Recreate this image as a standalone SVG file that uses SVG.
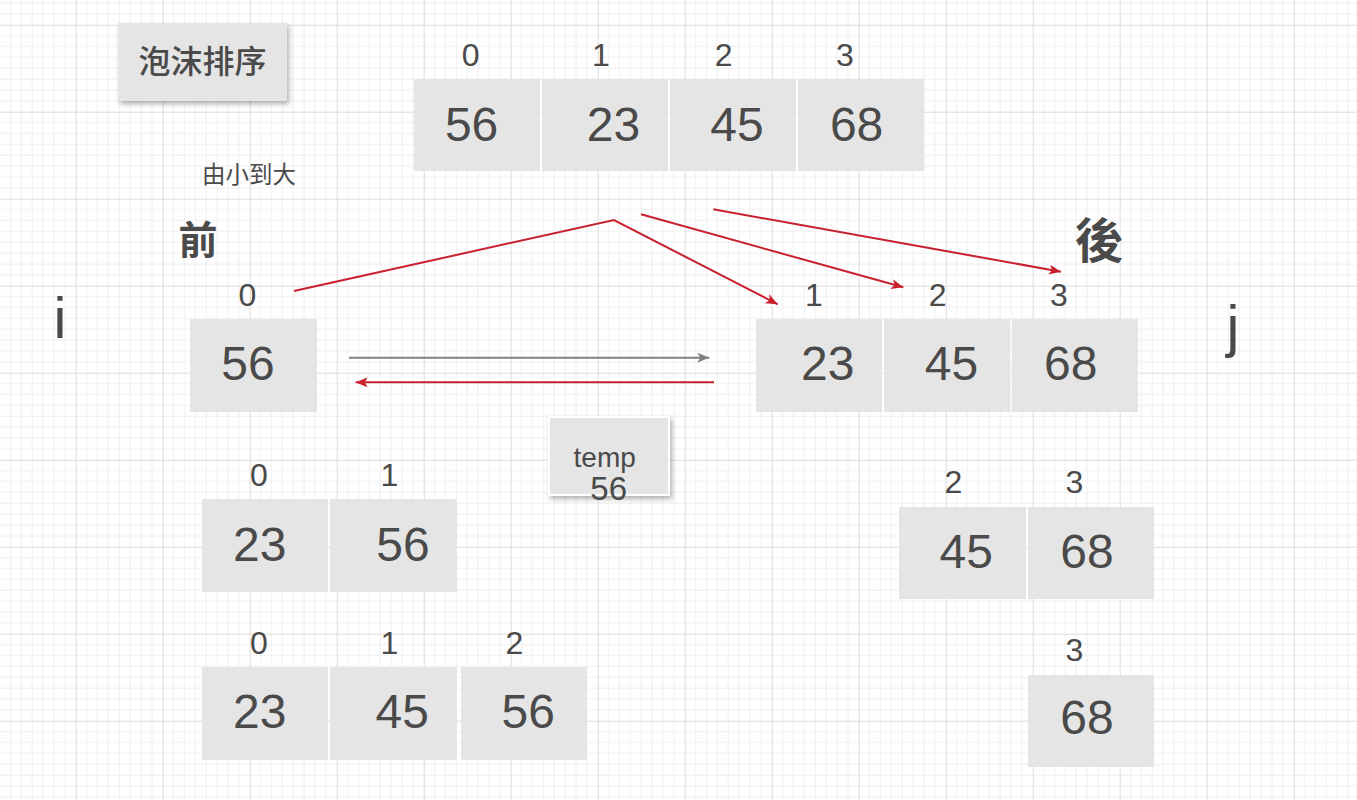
<svg xmlns="http://www.w3.org/2000/svg" width="1357" height="800" viewBox="0 0 1357 800">
<defs>
<pattern id="grid" patternUnits="userSpaceOnUse" x="75.7" y="24.7" width="87" height="87">
<path d="M10.875,0V87M21.75,0V87M32.625,0V87M43.5,0V87M54.375,0V87M65.25,0V87M76.125,0V87M0,10.875H87M0,21.75H87M0,32.625H87M0,43.5H87M0,54.375H87M0,65.25H87M0,76.125H87" stroke="#eeeeee" stroke-width="1" fill="none"/>
<path d="M0.5,0V87M0,0.5H87" stroke="#dcdcdc" stroke-width="1" fill="none"/>
</pattern>
<filter id="shadow" x="-20%" y="-20%" width="150%" height="160%">
<feDropShadow dx="2" dy="3" stdDeviation="2.5" flood-color="#000" flood-opacity="0.3"/>
</filter>
<marker id="arrRed" viewBox="0 0 12 10" refX="12" refY="5" markerWidth="12" markerHeight="10" markerUnits="userSpaceOnUse" orient="auto">
<path d="M0,0 L12,5 L0,10 L3,5 Z" fill="#c9202e"/>
</marker>
<marker id="arrGray" viewBox="0 0 12 10" refX="12" refY="5" markerWidth="12" markerHeight="10" markerUnits="userSpaceOnUse" orient="auto">
<path d="M0,0 L12,5 L0,10 L3,5 Z" fill="#808080"/>
</marker>
<style>
.cell{fill:#e5e5e5;}
.num{font-family:"Liberation Sans",Arial,sans-serif;font-size:48px;fill:#4a4a4a;text-anchor:middle;}
.idx{font-family:"Liberation Sans",Arial,sans-serif;font-size:32px;fill:#4a4a4a;text-anchor:middle;}
.cjk{font-family:"Noto Sans CJK SC","Noto Sans CJK TC",sans-serif;fill:#4a4a4a;}
.big{font-family:"Liberation Sans",Arial,sans-serif;font-size:58px;fill:#4a4a4a;text-anchor:middle;}
.red{stroke:#c9202e;stroke-width:2;fill:none;}
.gray{stroke:#808080;stroke-width:2;fill:none;}
</style>
</defs>
<rect width="1357" height="800" fill="#ffffff"/>
<rect width="1357" height="800" fill="url(#grid)"/>

<g id="title">
<rect x="118" y="23" width="169" height="78" class="cell" filter="url(#shadow)"/>
<text x="202.5" y="72.5" class="cjk" font-size="32" font-weight="500" text-anchor="middle">泡沫排序</text>
</g>
<g id="order-label">
<text x="202" y="183" class="cjk" font-size="23.5">由小到大</text>
</g>
<g id="front-label">
<text x="178.5" y="254" class="cjk" font-size="39" font-weight="bold">前</text>
</g>
<g id="back-label">
<text x="1075" y="258" class="cjk" font-size="48" font-weight="bold">後</text>
</g>
<g id="i-label"><text x="60" y="337.7" class="big">i</text></g>
<g id="j-label"><text x="1233" y="345.8" class="big">j</text></g>

<g id="array-top">
<rect x="414" y="79" width="126" height="92" class="cell"/>
<rect x="542" y="79" width="126" height="92" class="cell"/>
<rect x="670" y="79" width="126" height="92" class="cell"/>
<rect x="798" y="79" width="126" height="92" class="cell"/>
<text x="470.6" y="66" class="idx">0</text>
<text x="600.8" y="66" class="idx">1</text>
<text x="723.7" y="66" class="idx">2</text>
<text x="844.9" y="66" class="idx">3</text>
<text x="471.6" y="141" class="num">56</text>
<text x="613.5" y="141" class="num">23</text>
<text x="737" y="141" class="num">45</text>
<text x="856.6" y="141" class="num">68</text>
</g>

<g id="array-left">
<rect x="190" y="319" width="127" height="93" class="cell"/>
<text x="247.3" y="306" class="idx">0</text>
<text x="248" y="380" class="num">56</text>
</g>

<g id="array-right">
<rect x="756" y="319" width="126" height="93" class="cell"/>
<rect x="884" y="319" width="126" height="93" class="cell"/>
<rect x="1012" y="319" width="126" height="93" class="cell"/>
<text x="814" y="306" class="idx">1</text>
<text x="937.7" y="306" class="idx">2</text>
<text x="1059" y="306" class="idx">3</text>
<text x="827.7" y="380" class="num">23</text>
<text x="951.5" y="380" class="num">45</text>
<text x="1070.8" y="380" class="num">68</text>
</g>

<g id="temp">
<rect x="549" y="417" width="120" height="78" class="cell" stroke="#ffffff" stroke-width="2" filter="url(#shadow)"/>
<text x="604.7" y="466.5" font-family="Liberation Sans, Arial, sans-serif" font-size="28" fill="#4a4a4a" text-anchor="middle">temp</text>
<text x="608.7" y="500" font-family="Liberation Sans, Arial, sans-serif" font-size="33" fill="#4a4a4a" text-anchor="middle">56</text>
</g>

<g id="array-row1">
<rect x="202" y="499" width="126" height="93" class="cell"/>
<rect x="330" y="499" width="127" height="93" class="cell"/>
<text x="259" y="486" class="idx">0</text>
<text x="389.3" y="486" class="idx">1</text>
<text x="259.7" y="560.7" class="num">23</text>
<text x="403" y="560.7" class="num">56</text>
</g>

<g id="array-row2">
<rect x="202" y="667" width="126" height="93" class="cell"/>
<rect x="330" y="667" width="127" height="93" class="cell"/>
<rect x="461" y="667" width="126" height="93" class="cell"/>
<text x="259" y="654" class="idx">0</text>
<text x="389.3" y="654" class="idx">1</text>
<text x="514.3" y="654" class="idx">2</text>
<text x="259.7" y="728.3" class="num">23</text>
<text x="402.2" y="728.3" class="num">45</text>
<text x="528.2" y="728.3" class="num">56</text>
</g>

<g id="array-right2">
<rect x="899" y="507" width="127" height="92" class="cell"/>
<rect x="1028" y="507" width="126" height="92" class="cell"/>
<text x="953.3" y="493.3" class="idx">2</text>
<text x="1074.3" y="493.3" class="idx">3</text>
<text x="966.3" y="567.7" class="num">45</text>
<text x="1087" y="567.7" class="num">68</text>
</g>

<g id="array-right3">
<rect x="1028" y="675" width="126" height="92" class="cell"/>
<text x="1074.3" y="660.7" class="idx">3</text>
<text x="1087" y="734.3" class="num">68</text>
</g>

<g id="connectors">
<path d="M294,291 L614,220 L777.7,304.3" class="red" marker-end="url(#arrRed)"/>
<path d="M641,214.3 L903.3,287.3" class="red" marker-end="url(#arrRed)"/>
<path d="M713.3,209.3 L1061,271.7" class="red" marker-end="url(#arrRed)"/>
<path d="M349,357.7 L709.3,357.7" class="gray" marker-end="url(#arrGray)"/>
<path d="M714,382.3 L355.7,382.3" class="red" marker-end="url(#arrRed)"/>
</g>
</svg>
